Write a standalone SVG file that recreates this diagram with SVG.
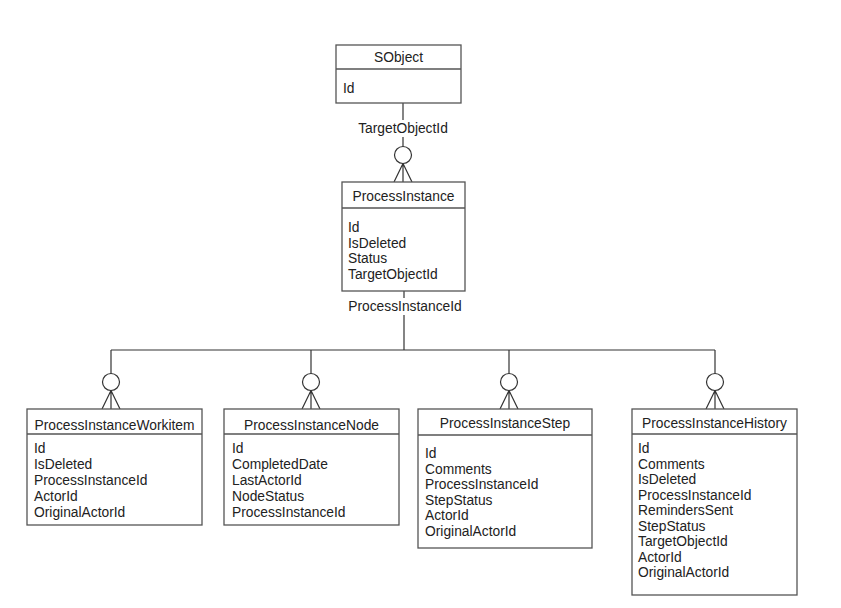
<svg xmlns="http://www.w3.org/2000/svg" width="841" height="608" viewBox="0 0 841 608">
<style>
.box{fill:#fff;stroke:#555;stroke-width:1.3}
.sep{stroke:#555;stroke-width:1.3}
.t{font-family:"Liberation Sans",Arial,sans-serif;font-size:13.8px;fill:#222}
.c{text-anchor:middle}
.ln{fill:none;stroke:#333;stroke-width:1.2}
.circ{fill:#fff;stroke:#333;stroke-width:1.2}
</style>
<rect width="841" height="608" fill="#fff"/>
<g id="connectors">
  <line class="ln" x1="403" y1="103" x2="403" y2="146.5"/>
  <rect x="355" y="120" width="96" height="17" fill="#fff"/>
  <text class="t c" x="403" y="133">TargetObjectId</text>
  <circle class="circ" cx="403" cy="155" r="8.5"/>
  <path class="ln" d="M403 163.5 L394 182 M403 163.5 L403 182 M403 163.5 L412 182"/>
  <line class="ln" x1="404" y1="291" x2="404" y2="350"/>
  <rect x="346" y="298" width="116" height="17" fill="#fff"/>
  <text class="t c" x="405" y="311">ProcessInstanceId</text>
  <line class="ln" x1="111" y1="350" x2="715" y2="350"/>
  <g id="end-workitem">
    <line class="ln" x1="111" y1="350" x2="111" y2="373.5"/>
    <circle class="circ" cx="111" cy="382" r="8.5"/>
    <path class="ln" d="M111 390.5 L102 409 M111 390.5 L111 409 M111 390.5 L120 409"/>
  </g>
  <g id="end-node">
    <line class="ln" x1="311" y1="350" x2="311" y2="373.5"/>
    <circle class="circ" cx="311" cy="382" r="8.5"/>
    <path class="ln" d="M311 390.5 L302 409 M311 390.5 L311 409 M311 390.5 L320 409"/>
  </g>
  <g id="end-step">
    <line class="ln" x1="509" y1="350" x2="509" y2="373.5"/>
    <circle class="circ" cx="509" cy="382" r="8.5"/>
    <path class="ln" d="M509 390.5 L500 409 M509 390.5 L509 409 M509 390.5 L518 409"/>
  </g>
  <g id="end-history">
    <line class="ln" x1="715" y1="350" x2="715" y2="373.5"/>
    <circle class="circ" cx="715" cy="382" r="8.5"/>
    <path class="ln" d="M715 390.5 L706 409 M715 390.5 L715 409 M715 390.5 L724 409"/>
  </g>
</g>
<g id="SObject">
  <rect class="box" x="336" y="45" width="125" height="58"/>
  <line class="sep" x1="336" y1="69" x2="461" y2="69"/>
  <text class="t c" x="398.5" y="62">SObject</text>
  <text class="t" x="343" y="93">Id</text>
</g>
<g id="ProcessInstance">
  <rect class="box" x="342" y="182" width="123" height="109"/>
  <line class="sep" x1="342" y1="208" x2="465" y2="208"/>
  <text class="t c" x="403.5" y="201">ProcessInstance</text>
  <text class="t" x="348" y="232">Id</text>
  <text class="t" x="348" y="247.5">IsDeleted</text>
  <text class="t" x="348" y="263">Status</text>
  <text class="t" x="348" y="278.5">TargetObjectId</text>
</g>
<g id="ProcessInstanceWorkitem">
  <rect class="box" x="27" y="409" width="175" height="116"/>
  <line class="sep" x1="27" y1="434" x2="202" y2="434"/>
  <text class="t c" x="114.5" y="430">ProcessInstanceWorkitem</text>
  <text class="t" x="34" y="453">Id</text>
  <text class="t" x="34" y="469">IsDeleted</text>
  <text class="t" x="34" y="485">ProcessInstanceId</text>
  <text class="t" x="34" y="501">ActorId</text>
  <text class="t" x="34" y="517">OriginalActorId</text>
</g>
<g id="ProcessInstanceNode">
  <rect class="box" x="224" y="409" width="175" height="116"/>
  <line class="sep" x1="224" y1="434" x2="399" y2="434"/>
  <text class="t c" x="311.5" y="430">ProcessInstanceNode</text>
  <text class="t" x="232" y="453">Id</text>
  <text class="t" x="232" y="469">CompletedDate</text>
  <text class="t" x="232" y="485">LastActorId</text>
  <text class="t" x="232" y="501">NodeStatus</text>
  <text class="t" x="232" y="517">ProcessInstanceId</text>
</g>
<g id="ProcessInstanceStep">
  <rect class="box" x="418" y="409" width="174" height="139"/>
  <line class="sep" x1="418" y1="435" x2="592" y2="435"/>
  <text class="t c" x="505" y="428">ProcessInstanceStep</text>
  <text class="t" x="425" y="458">Id</text>
  <text class="t" x="425" y="473.5">Comments</text>
  <text class="t" x="425" y="489">ProcessInstanceId</text>
  <text class="t" x="425" y="504.5">StepStatus</text>
  <text class="t" x="425" y="520">ActorId</text>
  <text class="t" x="425" y="535.5">OriginalActorId</text>
</g>
<g id="ProcessInstanceHistory">
  <rect class="box" x="632" y="409" width="165" height="186"/>
  <line class="sep" x1="632" y1="434" x2="797" y2="434"/>
  <text class="t c" x="714.5" y="428">ProcessInstanceHistory</text>
  <text class="t" x="638" y="453">Id</text>
  <text class="t" x="638" y="468.5">Comments</text>
  <text class="t" x="638" y="484">IsDeleted</text>
  <text class="t" x="638" y="499.5">ProcessInstanceId</text>
  <text class="t" x="638" y="515">RemindersSent</text>
  <text class="t" x="638" y="530.5">StepStatus</text>
  <text class="t" x="638" y="546">TargetObjectId</text>
  <text class="t" x="638" y="561.5">ActorId</text>
  <text class="t" x="638" y="577">OriginalActorId</text>
</g>
</svg>
